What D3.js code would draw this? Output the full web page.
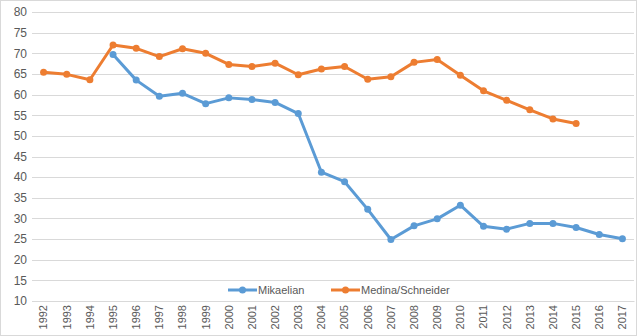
<!DOCTYPE html>
<html><head><meta charset="utf-8">
<script src="https://cdn.jsdelivr.net/npm/d3@7"></script>
<style>body{margin:0;background:#fff;}svg{display:block;font-family:"Liberation Sans",Arial,sans-serif;}</style>
</head><body>
<svg id="c" width="637" height="336"></svg>
<script>
const years = d3.range(1992, 2018).map(String);
const mikaelianYears = ["1995","1996","1997","1998","1999","2000","2001","2002","2003","2004","2005","2006","2007","2008","2009","2010","2011","2012","2013","2014","2015","2016","2017"];
const mikaelian = [69.7,63.5,59.6,60.3,57.8,59.2,58.8,58.1,55.4,41.2,38.9,32.2,24.9,28.2,29.9,33.2,28.1,27.4,28.8,28.8,27.8,26.1,25.1];
const medinaYears = ["1992","1993","1994","1995","1996","1997","1998","1999","2000","2001","2002","2003","2004","2005","2006","2007","2008","2009","2010","2011","2012","2013","2014","2015"];
const medina = [65.4,64.9,63.6,72.0,71.2,69.2,71.1,70.0,67.3,66.8,67.6,64.8,66.2,66.8,63.7,64.3,67.8,68.5,64.7,60.9,58.6,56.3,54.1,53.0];
const yTicks = [10,15,20,25,30,35,40,45,50,55,60,65,70,75,80];
const seriesNames = ["Mikaelian","Medina/Schneider"];
const colors = ["#5B9BD5","#ED7D31"];

const svg = d3.select("#c");
svg.append("rect").attr("x",0.5).attr("y",0.5).attr("width",636).attr("height",335)
  .attr("fill","#fff").attr("stroke","#d9d9d9");

const x = d3.scaleBand().domain(years).range([32, 634]);
const y = d3.scaleLinear().domain([10, 80]).range([301, 12]);

// gridlines
svg.append("g").selectAll("line").data(yTicks).join("line")
  .attr("x1", 32).attr("x2", 634)
  .attr("y1", d => Math.round(y(d)) + 0.5).attr("y2", d => Math.round(y(d)) + 0.5)
  .attr("stroke", "#d9d9d9").attr("stroke-width", 1);

// y axis labels
const yAxis = d3.axisLeft(y).tickValues(yTicks).tickSize(0).tickPadding(6);
const gy = svg.append("g").attr("transform","translate(32,0)").call(yAxis);
gy.select(".domain").remove();
gy.selectAll("text").attr("fill","#595959").style("font-size","12px").attr("x",-5);

// x axis
const xAxis = d3.axisBottom(x).tickSize(0);
const gx = svg.append("g").attr("transform","translate(0,301)").call(xAxis);
gx.select(".domain").attr("stroke","#d9d9d9");
gx.selectAll("text").attr("fill","#595959").style("font-size","11px")
  .attr("transform","rotate(-90)").attr("text-anchor","end")
  .attr("x",-4).attr("y",0).attr("dy","0.35em");

const cx = d => x(d) + x.bandwidth()/2;
const data = [
  mikaelianYears.map((yr,i)=>({yr, v: mikaelian[i]})),
  medinaYears.map((yr,i)=>({yr, v: medina[i]}))
];
const line = d3.line().x(d=>cx(d.yr)).y(d=>y(d.v));
data.forEach((ser, k) => {
  svg.append("path").datum(ser).attr("d", line).attr("fill","none")
    .attr("stroke", colors[k]).attr("stroke-width", 3).attr("stroke-linejoin","round");
  svg.append("g").selectAll("circle").data(ser).join("circle")
    .attr("cx", d=>cx(d.yr)).attr("cy", d=>y(d.v)).attr("r", 3.5).attr("fill", colors[k]);
});

// legend
const legX = [228, 331];
seriesNames.forEach((n,k) => {
  const g = svg.append("g").attr("transform", `translate(${legX[k]},290)`);
  g.append("line").attr("x1",0).attr("x2",29).attr("stroke",colors[k]).attr("stroke-width",3);
  g.append("circle").attr("cx",14.5).attr("r",3.5).attr("fill",colors[k]);
  g.append("text").attr("x",30).attr("dy","0.35em").attr("fill","#595959")
    .style("font-size","11px").text(n);
});
</script>
</body></html>
